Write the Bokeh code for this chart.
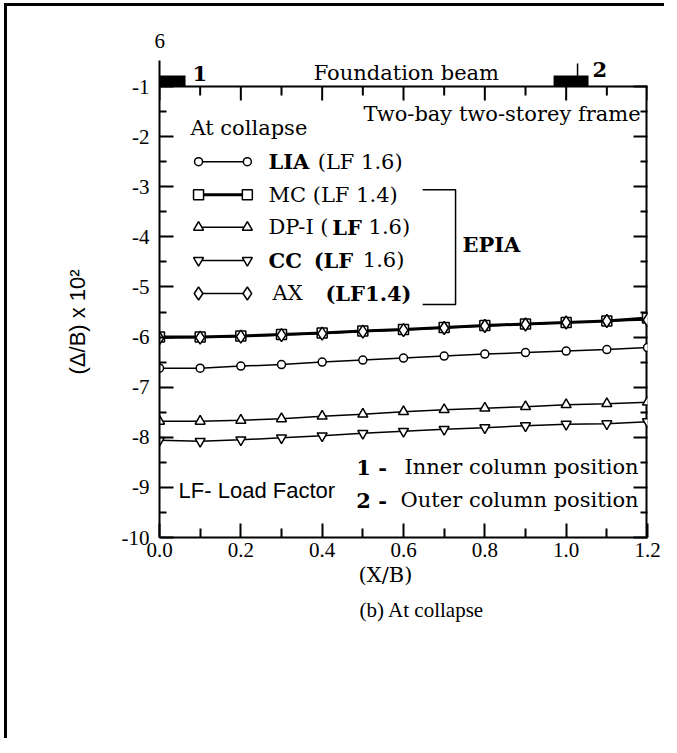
from bokeh.plotting import figure
from bokeh.models import Range1d, LinearAxis, FixedTicker, Label, BoxAnnotation, Title, InlineStyleSheet
from bokeh.embed import file_html
from bokeh.resources import INLINE

# ---------------- data ----------------
x_vals = [0.0, 0.1, 0.2, 0.3, 0.4, 0.5, 0.6, 0.7, 0.8, 0.9, 1.0, 1.1, 1.2]
lia = [-6.62, -6.62, -6.58, -6.55, -6.50, -6.46, -6.42, -6.38, -6.34, -6.31, -6.28, -6.25, -6.21]
mc = [-6.00, -6.00, -5.98, -5.95, -5.92, -5.88, -5.85, -5.81, -5.77, -5.74, -5.71, -5.68, -5.62]
dpi = [-7.68, -7.68, -7.66, -7.63, -7.58, -7.54, -7.49, -7.45, -7.42, -7.39, -7.35, -7.33, -7.30]
cc = [-8.06, -8.08, -8.05, -8.01, -7.97, -7.92, -7.88, -7.84, -7.81, -7.77, -7.74, -7.73, -7.69]
ax = [-6.02, -6.01, -5.99, -5.96, -5.93, -5.89, -5.86, -5.82, -5.78, -5.75, -5.71, -5.68, -5.66]

x_ticks = [0.0, 0.2, 0.4, 0.6, 0.8, 1.0, 1.2]
x_tick_labels = ["0.0", "0.2", "0.4", "0.6", "0.8", "1.0", "1.2"]
x_minor = [0.1, 0.3, 0.5, 0.7, 0.9, 1.1]
y_ticks = [-10, -9, -8, -7, -6, -5, -4, -3, -2, -1]
y_tick_labels = ["-10", "-9", "-8", "-7", "-6", "-5", "-4", "-3", "-2", "-1"]
y_minor = [-9.5, -8.5, -7.5, -6.5, -5.5, -4.5, -3.5, -2.5, -1.5]
x_min, x_max = 0.0, 1.2
y_min, y_box_top = -10.0, -1.0

SERIF = "DejaVu Serif"
TICKFONT = "Liberation Serif"
SANS = "Liberation Sans"

# y range is extended above the box so the foundation-beam sketch sits inside the frame
p = figure(width=660, height=735, x_range=Range1d(x_min, x_max), y_range=Range1d(y_min, -0.481),
           output_backend="svg", toolbar_location=None,
           min_border_left=152, min_border_top=54, min_border_right=20, min_border_bottom=204,
           x_axis_location=None, y_axis_location=None)
p.css_classes = ["outer-frame"]
p.stylesheets = [InlineStyleSheet(css=":host(.outer-frame) { margin-left: 4px; margin-top: 3px; "
                                      "border-left: 3px solid black; border-top: 3px solid black; }")]
p.xgrid.visible = False
p.ygrid.visible = False
p.outline_line_color = None
p.background_fill_color = "white"
p.border_fill_color = "white"


def style_axis(a, minor_in, labels, line=True):
    a.major_tick_in = 14
    a.major_tick_out = 0
    a.minor_tick_in = minor_in
    a.minor_tick_out = 0
    a.axis_line_width = 2
    a.major_tick_line_width = 2
    a.minor_tick_line_width = 2
    a.axis_line_color = "black" if line else None
    a.major_tick_line_color = "black"
    a.minor_tick_line_color = "black"
    if labels:
        a.major_label_text_font = TICKFONT
        a.major_label_text_font_size = "21px"
        a.major_label_text_color = "black"
    else:
        a.major_label_text_font_size = "0px"
        a.major_label_text_color = None
        a.major_label_standoff = 0


bx = LinearAxis(ticker=FixedTicker(ticks=x_ticks, minor_ticks=x_minor))
bx.major_label_overrides = {t: l for t, l in zip(x_ticks, x_tick_labels)}
style_axis(bx, 9, True)
bx.major_label_standoff = 5
p.add_layout(bx, "below")

ly = LinearAxis(ticker=FixedTicker(ticks=y_ticks, minor_ticks=y_minor))
ly.major_label_overrides = {t: l for t, l in zip(y_ticks, y_tick_labels)}
style_axis(ly, 7, True)
ly.major_label_standoff = 10
p.add_layout(ly, "left")

ry = LinearAxis(ticker=FixedTicker(ticks=y_ticks, minor_ticks=y_minor))
style_axis(ry, 7, False, line=False)
p.add_layout(ry, "right")

# top and right edges of the box with inward ticks on the top edge
p.line([x_min, x_max], [y_box_top, y_box_top], line_color="black", line_width=2)
p.line([x_max, x_max], [y_min, y_box_top], line_color="black", line_width=4)
p.segment(x0=x_ticks, y0=[y_box_top] * len(x_ticks), x1=x_ticks, y1=[y_box_top - 0.279] * len(x_ticks),
          line_color="black", line_width=2)
p.segment(x0=x_minor, y0=[y_box_top] * len(x_minor), x1=x_minor, y1=[y_box_top - 0.18] * len(x_minor),
          line_color="black", line_width=2)

# ---------------- series ----------------
series = [
    (lia, "circle", 8, 1.5),
    (dpi, "triangle", 10, 1.5),
    (cc, "inverted_triangle", 10, 1.5),
    (mc, "square", 10, 3),
    (ax, "diamond", 13, 1.5),
]
for ys, mk, sz, lw in series:
    p.line(x_vals, ys, line_color="black", line_width=lw)
    p.scatter(x_vals, ys, marker=mk, size=sz, fill_color="white", line_color="black", line_width=1.5)

# ---------------- legend (drawn) ----------------
leg_rows = [-2.50, -3.16, -3.81, -4.47, -5.13]
leg_markers = [("circle", 8, 1.5), ("square", 10, 3), ("triangle", 10, 1.5),
               ("inverted_triangle", 10, 1.5), ("diamond", 13, 1.5)]
leg_x0, leg_x1 = 0.096, 0.216
for yy, (mk, sz, lw) in zip(leg_rows, leg_markers):
    p.line([leg_x0, leg_x1], [yy, yy], line_color="black", line_width=lw)
    p.scatter([leg_x0, leg_x1], [yy, yy], marker=mk, size=sz, fill_color="white",
              line_color="black", line_width=1.5)

leg_segments = [
    (0, "LIA", "bold", 0.268), (0, "(LF 1.6)", "normal", 0.389),
    (1, "MC (LF 1.4)", "normal", 0.268),
    (2, "DP-I (", "normal", 0.268), (2, "LF", "bold", 0.425), (2, "1.6)", "normal", 0.514),
    (3, "CC", "bold", 0.268), (3, "(LF", "bold", 0.379), (3, "1.6)", "normal", 0.50),
    (4, "AX", "normal", 0.278), (4, "(LF1.4)", "bold", 0.408),
]
for row, txt, style, xx in leg_segments:
    p.add_layout(Label(x=xx, y=leg_rows[row], text=txt, text_font=SERIF, text_font_size="21px",
                       text_font_style=style, text_baseline="middle", text_align="left",
                       text_color="black"))

# bracket for EPIA
p.line([0.647, 0.728, 0.728, 0.647], [-3.06, -3.06, -5.35, -5.35], line_color="black", line_width=1.5)


def lab(x, y, text, size="21px", font=SERIF, style="normal", align="left"):
    p.add_layout(Label(x=x, y=y, text=text, text_font=font, text_font_size=size,
                       text_font_style=style, text_align=align, text_baseline="middle",
                       text_color="black"))


lab(0.745, -4.15, "EPIA", style="bold")
lab(0.076, -1.82, "At collapse")
lab(1.183, -1.54, "Two-bay two-storey frame", align="right")
lab(0.047, -9.06, "LF- Load Factor", size="22px", font=SANS)
lab(0.484, -8.60, "1 -", style="bold")
lab(1.178, -8.60, "Inner column position", align="right")
lab(0.484, -9.26, "2 -", style="bold")
lab(1.178, -9.26, "Outer column position", align="right")

# foundation beam sketch above the box
for lft, rgt in [(0.0, 0.064), (0.969, 1.055)]:
    p.add_layout(BoxAnnotation(left=lft, right=rgt, bottom=-1.0, top=-0.78,
                               fill_color="black", fill_alpha=1, line_color=None))
p.line([1.028, 1.028], [-1.0, -0.54], line_color="black", line_width=1.5)
lab(0.081, -0.74, "1", style="bold")
lab(1.065, -0.66, "2", style="bold")
lab(0.379, -0.74, "Foundation beam")

# titles around the frame
p.add_layout(Title(text="6", align="left", offset=-5, standoff=22, vertical_align="top",
                   text_font=TICKFONT, text_font_size="21px", text_font_style="normal",
                   text_color="black"), "above")
p.add_layout(Title(text="(Δ/B) x 10²", align="left", offset=163, standoff=58, text_font=SANS,
                   text_font_size="22px", text_font_style="normal", text_color="black"), "left")
p.add_layout(Title(text="(X/B)", align="left", offset=199, standoff=3, text_font=SERIF,
                   text_font_size="21px", text_font_style="normal", text_color="black"), "below")
p.add_layout(Title(text="(b) At collapse", align="left", offset=200, standoff=15,
                   text_font="Liberation Serif", text_font_size="21px", text_font_style="normal",
                   text_color="black"), "below")

open("out.html", "w").write(file_html(p, INLINE))
